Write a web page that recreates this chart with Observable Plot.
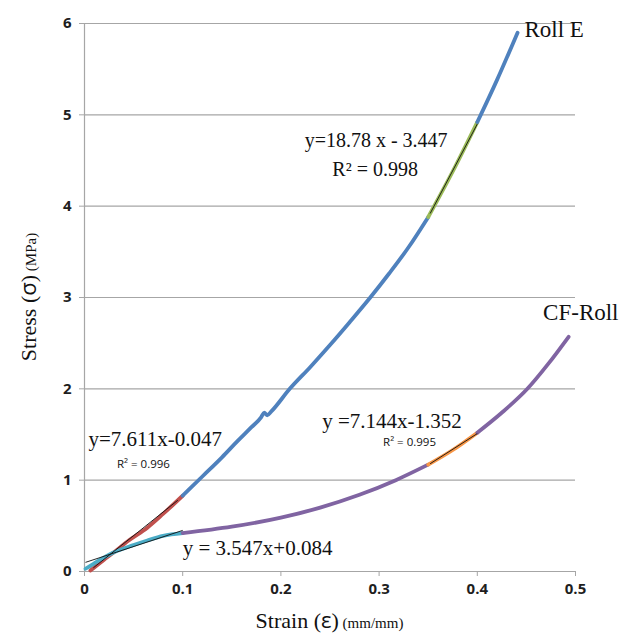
<!DOCTYPE html>
<html>
<head>
<meta charset="utf-8">
<script src="https://cdn.jsdelivr.net/npm/d3@7"></script>
<script src="https://cdn.jsdelivr.net/npm/@observablehq/plot@0.6"></script>
<style>
  html, body { margin: 0; padding: 0; background: #fff; }
  #chart svg { display: block; }
  #chart g[aria-label$="tick label"] text { font-weight: 700; }
</style>
</head>
<body>
<div id="chart"></div>
<script>
// ---- data ----
const xTicks = [0, 0.1, 0.2, 0.3, 0.4, 0.5];
const yTicks = [0, 1, 2, 3, 4, 5, 6];

// Roll E curve (strain mm/mm, stress MPa)
const rollEStrain = [0.006, 0.02, 0.03, 0.045, 0.064, 0.08, 0.1, 0.12, 0.14, 0.156, 0.17, 0.18, 0.183, 0.186, 0.19, 0.209, 0.23, 0.25, 0.27, 0.291, 0.31, 0.33, 0.35, 0.375, 0.40, 0.42, 0.441];
const rollEStress = [0.01, 0.13, 0.21, 0.34, 0.48, 0.63, 0.83, 1.04, 1.25, 1.43, 1.58, 1.69, 1.74, 1.71, 1.75, 2.0, 2.24, 2.48, 2.73, 3.0, 3.26, 3.55, 3.88, 4.38, 4.92, 5.38, 5.90];

// CF-Roll curve
const cfStrain = [0.001, 0.01, 0.03, 0.05, 0.064, 0.08, 0.1, 0.15, 0.2, 0.24, 0.28, 0.317, 0.35, 0.375, 0.40, 0.424, 0.451, 0.472, 0.493];
const cfStress = [0.03, 0.09, 0.21, 0.29, 0.34, 0.39, 0.42, 0.49, 0.59, 0.70, 0.84, 1.0, 1.17, 1.33, 1.52, 1.73, 2.0, 2.27, 2.57];

// highlighted (fitted) strain ranges
const initialRange = [0, 0.1];
const upperRange = [0.35, 0.40];

// linear fit lines (black) endpoints
const fitStrain1 = [0.009, 0.001, 0.352, 0.352];
const fitStress1 = [0.04, 0.10, 3.92, 1.18];
const fitStrain2 = [0.095, 0.1, 0.40, 0.40];
const fitStress2 = [0.78, 0.45, 4.90, 1.51];

// series labels and fit equations
const seriesNames = ["Roll E", "CF-Roll"];
const equations = ["y=18.78 x - 3.447", "y=7.611x-0.047", "y = 3.547x+0.084", "y =7.144x-1.352"];
const r2Labels = ["R² = 0.998", "R² = 0.996", "R² = 0.995"];

// ---- build segmented rows (colour of each step decided by its midpoint) ----
function segmentRows(strain, stress, name, colors) {
  const segOf = x => (x <= initialRange[1] ? 0 : (x >= upperRange[0] && x <= upperRange[1] ? 2 : 1));
  const rows = [];
  let cur = null, idx = 0;
  for (let i = 0; i < strain.length - 1; i++) {
    const s = segOf((strain[i] + strain[i + 1]) / 2);
    if (s !== cur) {
      idx++;
      cur = s;
      rows.push({x: strain[i], y: stress[i], z: name + idx, c: colors[s]});
    }
    rows.push({x: strain[i + 1], y: stress[i + 1], z: name + idx, c: colors[s]});
  }
  return rows;
}
const rows = [
  ...segmentRows(rollEStrain, rollEStress, "E", ["#C0504D", "#4F81BD", "#9BBB59"]),
  ...segmentRows(cfStrain, cfStress, "CF", ["#4BACC6", "#8064A2", "#F79646"])
];
const fits = fitStrain1.map((d, i) => ({x1: d, y1: fitStress1[i], x2: fitStrain2[i], y2: fitStress2[i]}));

const serif = "'Liberation Serif', 'Times New Roman', serif";
const sans = "'Open Sans', 'Noto Sans', sans-serif";

const chart = Plot.plot({
  width: 635,
  height: 634,
  marginLeft: 84,
  marginRight: 60,
  marginTop: 23,
  marginBottom: 63,
  style: {fontFamily: sans, background: "#fff"},
  x: {domain: [0, 0.5]},
  y: {domain: [0, 6]},
  marks: [
    Plot.ruleY(yTicks, {stroke: "#a6a6a6", strokeWidth: 1.2}),
    Plot.ruleX([0], {stroke: "#a6a6a6", strokeWidth: 1.2}),
    Plot.axisY({ticks: yTicks, tickSize: 5, tickPadding: 8, stroke: "#a6a6a6", fill: "#1e1e1e", fontSize: 15, label: null, tickFormat: d => String(d)}),
    Plot.axisX({ticks: xTicks, tickSize: 5, tickPadding: 7, stroke: "#a6a6a6", fill: "#1e1e1e", fontSize: 15, label: null, tickFormat: d => String(d)}),
    Plot.line(rows, {x: "x", y: "y", z: "z", stroke: "c", curve: "monotone-x", strokeWidth: 3.8, strokeLinecap: "round", strokeLinejoin: "round"}),
    Plot.link(fits, {x1: "x1", y1: "y1", x2: "x2", y2: "y2", stroke: "#111", strokeWidth: 0.9}),
    // series labels
    Plot.text([seriesNames[0]], {x: 0.448, y: 5.93, text: d => d, textAnchor: "start", fontFamily: serif, fontSize: 23, fill: "#111"}),
    Plot.text([seriesNames[1]], {x: 0.467, y: 2.83, text: d => d, textAnchor: "start", fontFamily: serif, fontSize: 23, fill: "#111"}),
    // equations
    Plot.text([equations[0]], {x: 0.297, y: 4.72, text: d => d, textAnchor: "middle", fontFamily: serif, fontSize: 20, fill: "#111"}),
    Plot.text([r2Labels[0]], {x: 0.296, y: 4.40, text: d => d, textAnchor: "middle", fontFamily: serif, fontSize: 20, fill: "#111"}),
    Plot.text([equations[1]], {x: 0.004, y: 1.45, text: d => d, textAnchor: "start", fontFamily: serif, fontSize: 21, fill: "#111"}),
    Plot.text([r2Labels[1]], {x: 0.033, y: 1.17, text: d => d, textAnchor: "start", fontFamily: sans, fontSize: 11.5, fill: "#111"}),
    Plot.text([equations[2]], {x: 0.1, y: 0.25, text: d => d, textAnchor: "start", fontFamily: serif, fontSize: 21, fill: "#111"}),
    Plot.text([equations[3]], {x: 0.242, y: 1.65, text: d => d, textAnchor: "start", fontFamily: serif, fontSize: 21, fill: "#111"}),
    Plot.text([r2Labels[2]], {x: 0.304, y: 1.41, text: d => d, textAnchor: "start", fontFamily: sans, fontSize: 11.5, fill: "#111"})
  ]
});

document.getElementById("chart").appendChild(chart);

// axis titles with mixed type sizes
const svg = d3.select(chart);
const xs = chart.scale("x"), ys = chart.scale("y");
const xMid = (xs.apply(0) + xs.apply(0.5)) / 2;
const yMid = (ys.apply(0) + ys.apply(6)) / 2;

const xt = svg.append("text")
  .attr("x", xMid).attr("y", 628)
  .attr("text-anchor", "middle")
  .attr("fill", "#111")
  .style("font-family", serif);
xt.append("tspan").attr("font-size", 22).text("Strain (");
xt.append("tspan").attr("font-size", 22).style("font-family", sans).text("ε");
xt.append("tspan").attr("font-size", 22).text(")");
xt.append("tspan").attr("font-size", 15).text(" (mm/mm)");

const yt = svg.append("text")
  .attr("transform", `translate(36, ${yMid}) rotate(-90)`)
  .attr("text-anchor", "middle")
  .attr("fill", "#111")
  .style("font-family", serif);
yt.append("tspan").attr("font-size", 22).text("Stress (");
yt.append("tspan").attr("font-size", 22).style("font-family", sans).text("σ");
yt.append("tspan").attr("font-size", 22).text(")");
yt.append("tspan").attr("font-size", 15).text(" (MPa)");
</script>
</body>
</html>
